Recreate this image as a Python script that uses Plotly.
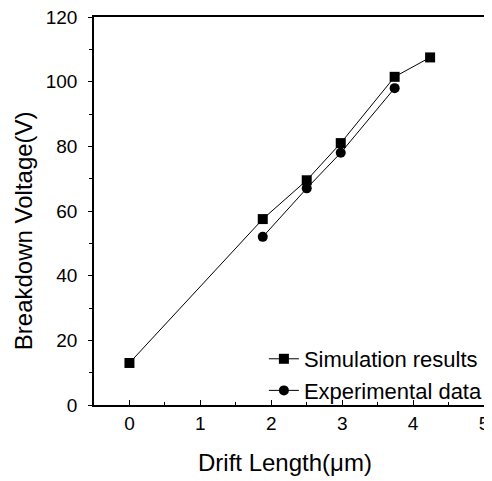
import plotly.graph_objects as go

# simulation results
sim_length = [0, 1.88, 2.5, 2.98, 3.74, 4.24]
sim_voltage = [13, 57.5, 69.5, 81, 101.5, 107.5]

# experimental data
exp_length = [1.88, 2.5, 2.98, 3.74]
exp_voltage = [52, 67, 78, 98]

FONT = "Liberation Sans, Arial, sans-serif"

fig = go.Figure()
fig.add_trace(
    go.Scatter(
        x=sim_length,
        y=sim_voltage,
        mode="lines+markers",
        name="Simulation results",
        line=dict(color="black", width=1),
        marker=dict(symbol="square", size=10, color="black"),
    )
)
fig.add_trace(
    go.Scatter(
        x=exp_length,
        y=exp_voltage,
        mode="lines+markers",
        name="Experimental data",
        line=dict(color="black", width=1),
        marker=dict(symbol="circle", size=10, color="black"),
    )
)

axis_common = dict(
    showline=True,
    linecolor="black",
    linewidth=1.5,
    mirror=True,
    showgrid=False,
    zeroline=False,
    automargin=False,
    ticklabeloverflow="allow",
    tickcolor="black",
    tickfont=dict(family=FONT, size=19, color="black"),
)

fig.update_xaxes(
    range=[-0.5, 5],
    tickvals=[0, 1, 2, 3, 4, 5],
    ticks="inside",
    ticklen=5,
    minor=dict(ticks="inside", dtick=0.5, ticklen=3, tickcolor="black"),
    **axis_common,
)
fig.update_yaxes(
    range=[0, 120],
    tickvals=[0, 20, 40, 60, 80, 100, 120],
    ticks="outside",
    ticklen=4,
    ticklabelstandoff=7,
    minor=dict(ticks="outside", dtick=10, ticklen=3, tickcolor="black"),
    **axis_common,
)

# axis titles as annotations so they sit where the original has them
fig.add_annotation(
    text="Drift Length(\u03bcm)",
    xref="paper", yref="paper", x=0.49, y=-0.149,
    xanchor="center", yanchor="middle", showarrow=False,
    font=dict(family=FONT, size=24, color="black"),
)
fig.add_annotation(
    text="Breakdown Voltage(V)",
    xref="paper", yref="paper", x=-0.18, y=0.45,
    xanchor="center", yanchor="middle", showarrow=False, textangle=-90,
    font=dict(family=FONT, size=24, color="black"),
)

# page body adds an 8px margin, so the figure is a bit smaller than the window
fig.update_layout(
    width=484,
    height=473,
    margin=dict(l=86, r=4, t=9, b=76),
    plot_bgcolor="white",
    paper_bgcolor="white",
    showlegend=True,
    legend=dict(
        x=1.01,
        y=-0.018,
        xanchor="right",
        yanchor="bottom",
        bgcolor="rgba(0,0,0,0)",
        font=dict(family=FONT, size=22, color="black"),
        tracegroupgap=0,
        itemwidth=30,
    ),
)

fig.write_html("out.html")
